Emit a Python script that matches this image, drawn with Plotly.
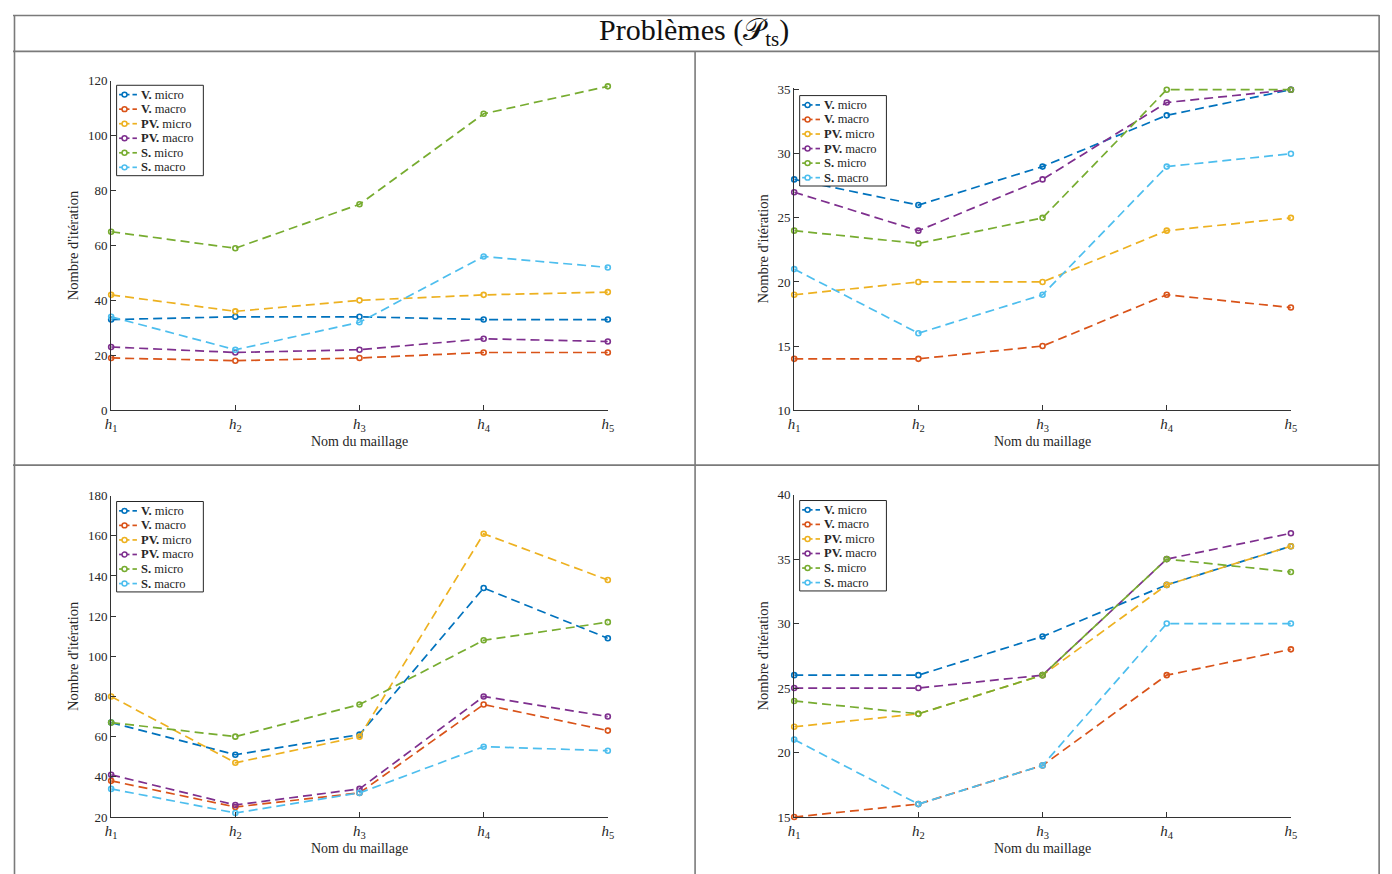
import plotly.graph_objects as go

W, H = 1392, 874
OFF = 8  # page body margin: figure pixel = screen pixel - OFF

mesh_labels = ["<i>h</i><sub>1</sub>", "<i>h</i><sub>2</sub>", "<i>h</i><sub>3</sub>",
               "<i>h</i><sub>4</sub>", "<i>h</i><sub>5</sub>"]
series_names = ["<b>V.</b> micro", "<b>V.</b> macro", "<b>PV.</b> micro",
                "<b>PV.</b> macro", "<b>S.</b> micro", "<b>S.</b> macro"]
colors = ["#0072BD", "#D95319", "#EDB120", "#7E2F8E", "#77AC30", "#4DBEEE"]

# Panel 1 (top-left)
p1_v_micro = [33, 34, 34, 33, 33]
p1_v_macro = [19, 18, 19, 21, 21]
p1_pv_micro = [42, 36, 40, 42, 43]
p1_pv_macro = [23, 21, 22, 26, 25]
p1_s_micro = [65, 59, 75, 108, 118]
p1_s_macro = [34, 22, 32, 56, 52]

# Panel 2 (top-right)
p2_v_micro = [28, 26, 29, 33, 35]
p2_v_macro = [14, 14, 15, 19, 18]
p2_pv_micro = [19, 20, 20, 24, 25]
p2_pv_macro = [27, 24, 28, 34, 35]
p2_s_micro = [24, 23, 25, 35, 35]
p2_s_macro = [21, 16, 19, 29, 30]

# Panel 3 (bottom-left)
p3_v_micro = [67, 51, 61, 134, 109]
p3_v_macro = [38, 25, 32, 76, 63]
p3_pv_micro = [80, 47, 60, 161, 138]
p3_pv_macro = [41, 26, 34, 80, 70]
p3_s_micro = [67, 60, 76, 108, 117]
p3_s_macro = [34, 22, 32, 55, 53]

# Panel 4 (bottom-right)
p4_v_micro = [26, 26, 29, 33, 36]
p4_v_macro = [15, 16, 19, 26, 28]
p4_pv_micro = [22, 23, 26, 33, 36]
p4_pv_macro = [25, 25, 26, 35, 37]
p4_s_micro = [24, 23, 26, 35, 34]
p4_s_macro = [21, 16, 19, 30, 30]

y_ranges = [[0, 120], [10, 35], [20, 180], [15, 40]]
y_dtick = [20, 5, 20, 5]

panels = [
    [p1_v_micro, p1_v_macro, p1_pv_micro, p1_pv_macro, p1_s_micro, p1_s_macro],
    [p2_v_micro, p2_v_macro, p2_pv_micro, p2_pv_macro, p2_s_micro, p2_s_macro],
    [p3_v_micro, p3_v_macro, p3_pv_micro, p3_pv_macro, p3_s_micro, p3_s_macro],
    [p4_v_micro, p4_v_macro, p4_pv_micro, p4_pv_macro, p4_s_micro, p4_s_macro],
]

# plot areas in screen pixels: (x0, x1, ytop, ybottom)
areas = [(106, 607, 75, 410), (795, 1296, 84, 410),
         (106, 607, 497, 824), (795, 1296, 496, 824)]
# extra pixels above the top tick so lines at the top value are not clipped
top_pad = [0, 2, 0, 0]
legend_boxes = [(111.5, 79.5), (800.5, 90), (111.5, 503), (800.5, 502)]
LEG_W, LEG_H, LEG_ROW = 87.5, 92, 14.8

FONT = "Liberation Serif"
AX = "#333333"
TXT = "#262626"


def px(x):
    return (x - OFF) / W


def py(y):
    return 1 - (y - OFF) / H


fig = go.Figure()
layout = dict(width=W, height=H, margin=dict(l=0, r=0, t=0, b=0),
              paper_bgcolor="white", plot_bgcolor="white", showlegend=False,
              font=dict(family=FONT, color=TXT))
shapes = []
annotations = []

for k, data in enumerate(panels):
    idx = "" if k == 0 else str(k + 1)
    for name, vals, col in zip(series_names, data, colors):
        fig.add_trace(go.Scatter(
            x=mesh_labels, y=vals, name=name, mode="lines+markers",
            line=dict(color=col, width=1.7, dash="9px,5px"),
            marker=dict(symbol="circle-open", size=5, color=col, line=dict(width=1.6)),
            cliponaxis=False, xaxis="x" + idx, yaxis="y" + idx))
    x0, x1, yt, yb = areas[k]
    lo, hi = y_ranges[k]
    per_px = (hi - lo) / (yb - yt)
    hi_ext = hi + top_pad[k] * per_px
    layout["xaxis" + idx] = dict(
        domain=[px(x0), px(x1)], anchor="y" + idx, type="category",
        range=[0, 4], showgrid=False, zeroline=False, showline=True,
        linecolor=AX, linewidth=1, ticks="inside", ticklen=5, tickcolor=AX,
        tickfont=dict(size=15, family=FONT, color=TXT),
        title=dict(text="Nom du maillage", font=dict(size=14, family=FONT, color=TXT),
                   standoff=1))
    layout["yaxis" + idx] = dict(
        domain=[py(yb), py(yt - top_pad[k])], anchor="x" + idx, range=[lo, hi_ext],
        tick0=lo, dtick=y_dtick[k], showgrid=False, zeroline=False, showline=True,
        linecolor=AX, linewidth=1, ticks="inside", ticklen=5, tickcolor=AX,
        tickfont=dict(size=13, family=FONT, color=TXT),
        title=dict(text="Nombre d'itération", font=dict(size=14.5, family=FONT, color=TXT),
                   standoff=5))

    # legend box (drawn as shapes + text)
    bx, by = legend_boxes[k]
    shapes.append(dict(type="rect", xref="paper", yref="paper",
                       x0=px(bx), x1=px(bx + LEG_W), y0=py(by + LEG_H), y1=py(by),
                       fillcolor="white", line=dict(color=TXT, width=1), layer="above"))
    for i, (name, col) in enumerate(zip(series_names, colors)):
        yc = by + 9.5 + LEG_ROW * i
        shapes.append(dict(type="line", xref="paper", yref="paper",
                           x0=px(bx + 2.5), x1=px(bx + 13), y0=py(yc), y1=py(yc),
                           line=dict(color=col, width=1.7), layer="above"))
        shapes.append(dict(type="line", xref="paper", yref="paper",
                           x0=px(bx + 16), x1=px(bx + 20.5), y0=py(yc), y1=py(yc),
                           line=dict(color=col, width=1.7), layer="above"))
        shapes.append(dict(type="circle", xref="paper", yref="paper",
                           x0=px(bx + 5.5), x1=px(bx + 10.5), y0=py(yc + 2.5), y1=py(yc - 2.5),
                           fillcolor="white", line=dict(color=col, width=1.5), layer="above"))
        annotations.append(dict(text=name, xref="paper", yref="paper",
                                x=px(bx + 22.5), y=py(yc), xanchor="left", yanchor="middle",
                                showarrow=False,
                                font=dict(size=12.5, family=FONT, color=TXT)))

# outer frame and dividers (screen pixels)
LC = "#7a7a7a"
frame = [
    (7, 8.5, 1385, 8.5), (7, 45, 1385, 45), (8.5, 8, 8.5, 890), (1385, 8, 1385, 890),
    (695, 45, 695, 890), (7, 466, 1385, 466),
]
for (a, b, c, d) in frame:
    shapes.append(dict(type="line", xref="paper", yref="paper",
                       x0=px(a), y0=py(b), x1=px(c), y1=py(d),
                       line=dict(color=LC, width=1.6)))

annotations.append(dict(text="Problèmes (𝒫<sub>ts</sub>)", xref="paper", yref="paper",
                        x=px(694), y=py(25), xanchor="center", yanchor="middle",
                        showarrow=False, font=dict(size=30, family=FONT, color="#111111")))

layout["shapes"] = shapes
layout["annotations"] = annotations
fig.update_layout(**layout)

fig.write_html("out.html")
